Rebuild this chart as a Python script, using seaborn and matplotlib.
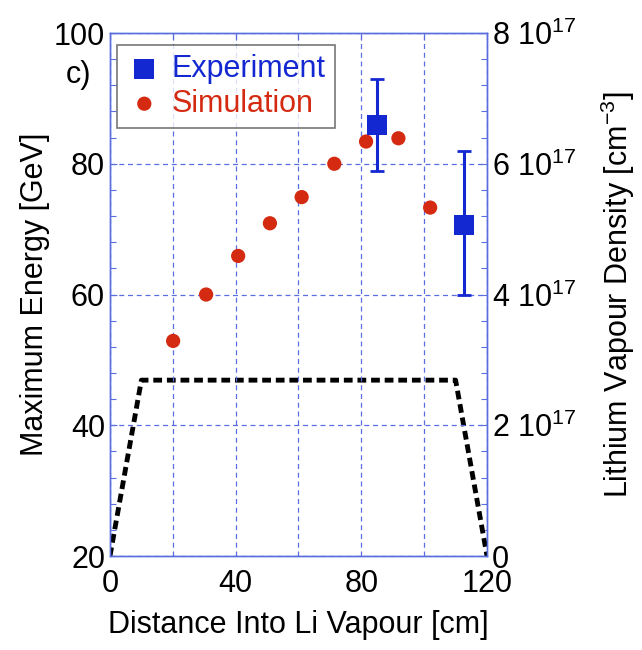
import matplotlib
matplotlib.use("Agg")
import matplotlib.pyplot as plt
import seaborn as sns
import numpy as np
import pandas as pd
from matplotlib.ticker import MultipleLocator, FixedLocator, FixedFormatter

sns.set_theme(style="white")
plt.rcParams['font.family'] = ['Liberation Sans', 'DejaVu Sans']
plt.rcParams['mathtext.fontset'] = 'custom'
plt.rcParams['mathtext.rm'] = 'Liberation Sans'
plt.rcParams['text.color'] = 'black'
plt.rcParams['axes.labelcolor'] = 'black'

# Data
sim_x = [20.1, 30.6, 40.8, 50.9, 61.0, 71.4, 81.5, 91.8, 101.9]
sim_y = [52.9, 60.0, 65.9, 70.9, 74.9, 80.0, 83.4, 83.9, 73.3]
exp_x = [84.9, 112.7]
exp_y = [85.9, 70.7]
exp_err_lo = [7.0, 10.7]
exp_err_hi = [7.0, 11.3]
dens_x = [0, 10, 110, 120]
dens_y = [0, 2.69e17, 2.69e17, 0]
x_ticks = [0, 20, 40, 60, 80, 100, 120]
x_ticklabels = ['0', '', '40', '', '80', '', '120']
y_ticks = [20, 40, 60, 80, 100]
r_ticks = [0, 2e17, 4e17, 6e17, 8e17]
r_ticklabels = ['0', r'2 10$^{17}$', r'4 10$^{17}$', r'6 10$^{17}$', r'8 10$^{17}$']

BLUE = '#1428d2'
RED = '#d42a12'
GRID = '#5a6ee0'
FS = 22

fig = plt.figure(figsize=(6.42, 6.5), dpi=100)
ax = fig.add_axes([0.1713, 0.1446, 0.5873, 0.8046])
ax2 = ax.twinx()

# density line on right axis
dens_df = pd.DataFrame({'x': dens_x, 'y': dens_y})
sns.lineplot(data=dens_df, x='x', y='y', ax=ax2, color='black', lw=3.5,
             linestyle=(0, (1.8, 1.0)), sort=False, zorder=3)
ax2.set_ylim(0, 8e17)
ax2.yaxis.set_major_locator(FixedLocator(r_ticks))
ax2.yaxis.set_major_formatter(FixedFormatter(r_ticklabels))
ax2.yaxis.set_minor_locator(MultipleLocator(0.4e17))
ax2.set_ylabel(r'Lithium Vapour Density [cm$^{-3}$]', fontsize=FS, color='black', labelpad=16)
ax2.set_xlabel('')

# main axis
sim_df = pd.DataFrame({'x': sim_x, 'y': sim_y})
ax.set_zorder(ax2.get_zorder() + 1)
ax.patch.set_visible(False)
sns.scatterplot(data=sim_df, x='x', y='y', ax=ax, color=RED, s=105, edgecolor='none',
                label='Simulation', zorder=4)
ax.errorbar(exp_x, exp_y, yerr=[exp_err_lo, exp_err_hi], fmt='none', ecolor=BLUE,
            elinewidth=2.2, capsize=5, capthick=2, zorder=5)
exp_df = pd.DataFrame({'x': exp_x, 'y': exp_y})
sns.scatterplot(data=exp_df, x='x', y='y', ax=ax, color=BLUE, marker='s', s=210,
                edgecolor='none', label='Experiment', zorder=6)

ax.set_xlim(0, 120)
ax.set_ylim(20, 100)
ax.xaxis.set_major_locator(FixedLocator(x_ticks))
ax.xaxis.set_major_formatter(FixedFormatter(x_ticklabels))
ax.yaxis.set_major_locator(FixedLocator(y_ticks))
ax.yaxis.set_minor_locator(MultipleLocator(4))
ax.set_xlabel('Distance Into Li Vapour [cm]', fontsize=FS, labelpad=8, color='black')
ax.set_ylabel('Maximum Energy [GeV]', fontsize=FS, labelpad=3, color='black')

ax.grid(True, which='major', color=GRID, linestyle=(0, (4, 3)), lw=0.9)
for a in (ax, ax2):
    for s in a.spines.values():
        s.set_color(GRID)
        s.set_linewidth(1.0)
ax.tick_params(axis='both', which='both', direction='in', colors=GRID, labelcolor='black',
               labelsize=FS, top=True, length=5, width=0.8)
ax.tick_params(axis='x', which='major', pad=9)
ax.tick_params(axis='y', which='both', right=False)
ax.tick_params(axis='y', which='minor', length=4, left=True)
ax2.tick_params(axis='y', which='both', direction='in', colors=GRID, labelcolor='black',
                labelsize=FS, length=5, width=0.8)
ax2.tick_params(axis='y', which='minor', length=4)

# legend
h, l = ax.get_legend_handles_labels()
order = [l.index('Experiment'), l.index('Simulation')]
leg = ax.legend([h[i] for i in order], [l[i] for i in order], loc='upper left',
                bbox_to_anchor=(0.01, 0.983), fontsize=FS, frameon=True, fancybox=False,
                handletextpad=0.3, borderpad=0.3, labelspacing=0.15, handlelength=1.2,
                markerscale=1.0, borderaxespad=0.1)
leg.get_frame().set_edgecolor('#555555')
leg.get_frame().set_linewidth(1.2)
leg.get_texts()[0].set_color(BLUE)
leg.get_texts()[1].set_color(RED)

fig.text(0.102, 0.885, 'c)', fontsize=FS, ha='left', va='center', color='black')

fig.savefig('out.png', dpi=100)
